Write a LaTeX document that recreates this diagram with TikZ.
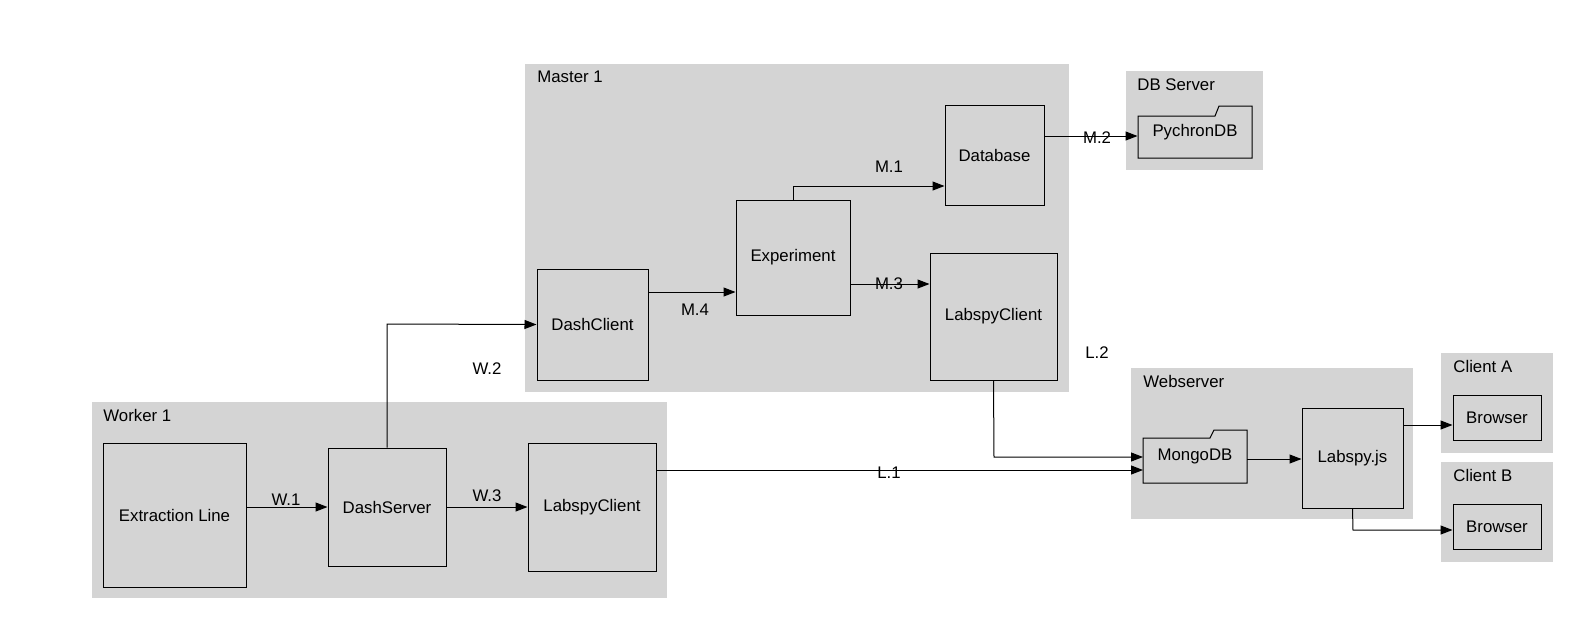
\documentclass[tikz,border=0pt]{standalone}
\usepackage{fontspec}
\setmainfont{Liberation Sans}
\usetikzlibrary{arrows.meta}
\begin{document}
\begin{tikzpicture}[x=0.5pt,y=-0.5pt,font=\fontsize{8.4}{10}\selectfont,
  clus/.style={fill=black!17,draw=none},
  ctitle/.style={anchor=north west,inner sep=0pt},
  nd/.style={draw,line width=0.5pt,inner sep=0pt},
  arr/.style={line width=0.5pt,-{Triangle[length=6pt,width=4.5pt]}},
  lab/.style={inner sep=0pt}]
\useasboundingbox (0,0) rectangle (1592,623);
% clusters
\fill[clus] (525,64) rectangle (1069,392);
\node[ctitle] (tm) at (537,71) {Master 1};
\fill[clus] (1126,71) rectangle (1263,170);
\node[ctitle] (tdb) at (1137,78) {DB Server};
\fill[clus] (92,402) rectangle (667,598);
\node[ctitle] (tw) at (103,409) {Worker 1};
\fill[clus] (1131,368) rectangle (1413,519);
\node[ctitle] (tws) at (1143,375) {Webserver};
\fill[clus] (1441,353) rectangle (1553,453);
\node[ctitle] (tca) at (1453,360) {Client A};
\fill[clus] (1441,462) rectangle (1553,562);
\node[ctitle] (tcb) at (1453,469) {Client B};
% nodes
\node[nd,minimum width=49.5pt,minimum height=50pt] (db) at (994.5,155) {Database};
\node[nd,draw=none,minimum width=57pt,minimum height=26pt] (pdb) at (1195,132) {PychronDB};
\draw[line width=0.5pt] (1138,116)--(1215,116)--(1219,106)--(1252,106)--(1252,158)--(1138,158)--cycle;
\node[nd,minimum width=57pt,minimum height=57.5pt] (exp) at (793,257.5) {Experiment};
\node[nd,minimum width=55.5pt,minimum height=55.5pt] (dc) at (592.5,324.5) {DashClient};
\node[nd,minimum width=63.5pt,minimum height=63.5pt] (lcm) at (993.5,316.5) {LabspyClient};
\node[nd,minimum width=71.5pt,minimum height=72pt] (el) at (174.5,515) {Extraction Line};
\node[nd,minimum width=59pt,minimum height=59pt] (ds) at (387,507) {DashServer};
\node[nd,minimum width=64pt,minimum height=64pt] (lcw) at (592,507) {LabspyClient};
\node[nd,draw=none,minimum width=52pt,minimum height=26.5pt] (mdb) at (1195,456.5) {MongoDB};
\draw[line width=0.5pt] (1143,438)--(1210,438)--(1214,430)--(1247,430)--(1247,483)--(1143,483)--cycle;
\node[nd,minimum width=50.5pt,minimum height=50pt] (ljs) at (1352.5,458) {Labspy.js};
\node[nd,minimum width=44pt,minimum height=22.5pt] (ba) at (1497,417.5) {Browser};
\node[nd,minimum width=44pt,minimum height=22.5pt] (bb) at (1497,526.5) {Browser};
% edges
\draw[arr] (db.east|-0,136) -- (pdb.west|-0,136);
\node[lab] (lm2) at (1097,138) {M.2};
\draw[arr] (exp.north) -- (793,186) -- (db.west|-0,186);
\node[lab] (lm1) at (889,167) {M.1};
\draw[arr] (exp.east|-0,284) -- (lcm.west|-0,284);
\node[lab] (lm3) at (889,284) {M.3};
\draw[arr] (dc.east|-0,292) -- (exp.west|-0,292);
\node[lab] (lm4) at (695,310) {M.4};
\draw[arr] (ds.north) -- (387,324) -- (dc.west);
\node[lab] (lw2) at (487,369) {W.2};
\draw[arr] (el.east|-0,507) -- (ds.west);
\node[lab] (lw1) at (286,500) {W.1};
\draw[arr] (ds.east) -- (lcw.west);
\node[lab] (lw3) at (487,496) {W.3};
\draw[arr] (lcw.east|-0,470) -- (1143,470);
\node[lab] (ll1) at (889,473) {L.1};
\draw[arr] (lcm.south) -- (994,457) -- (1143,457);
\node[lab] (ll2) at (1097,353) {L.2};
\draw[arr] (1247,459) -- (ljs.west|-0,459);
\draw[arr] (ljs.east|-0,425) -- (ba.west|-0,425);
\draw[arr] (ljs.south) -- (1353,530) -- (bb.west|-0,530);
\end{tikzpicture}
\end{document}
